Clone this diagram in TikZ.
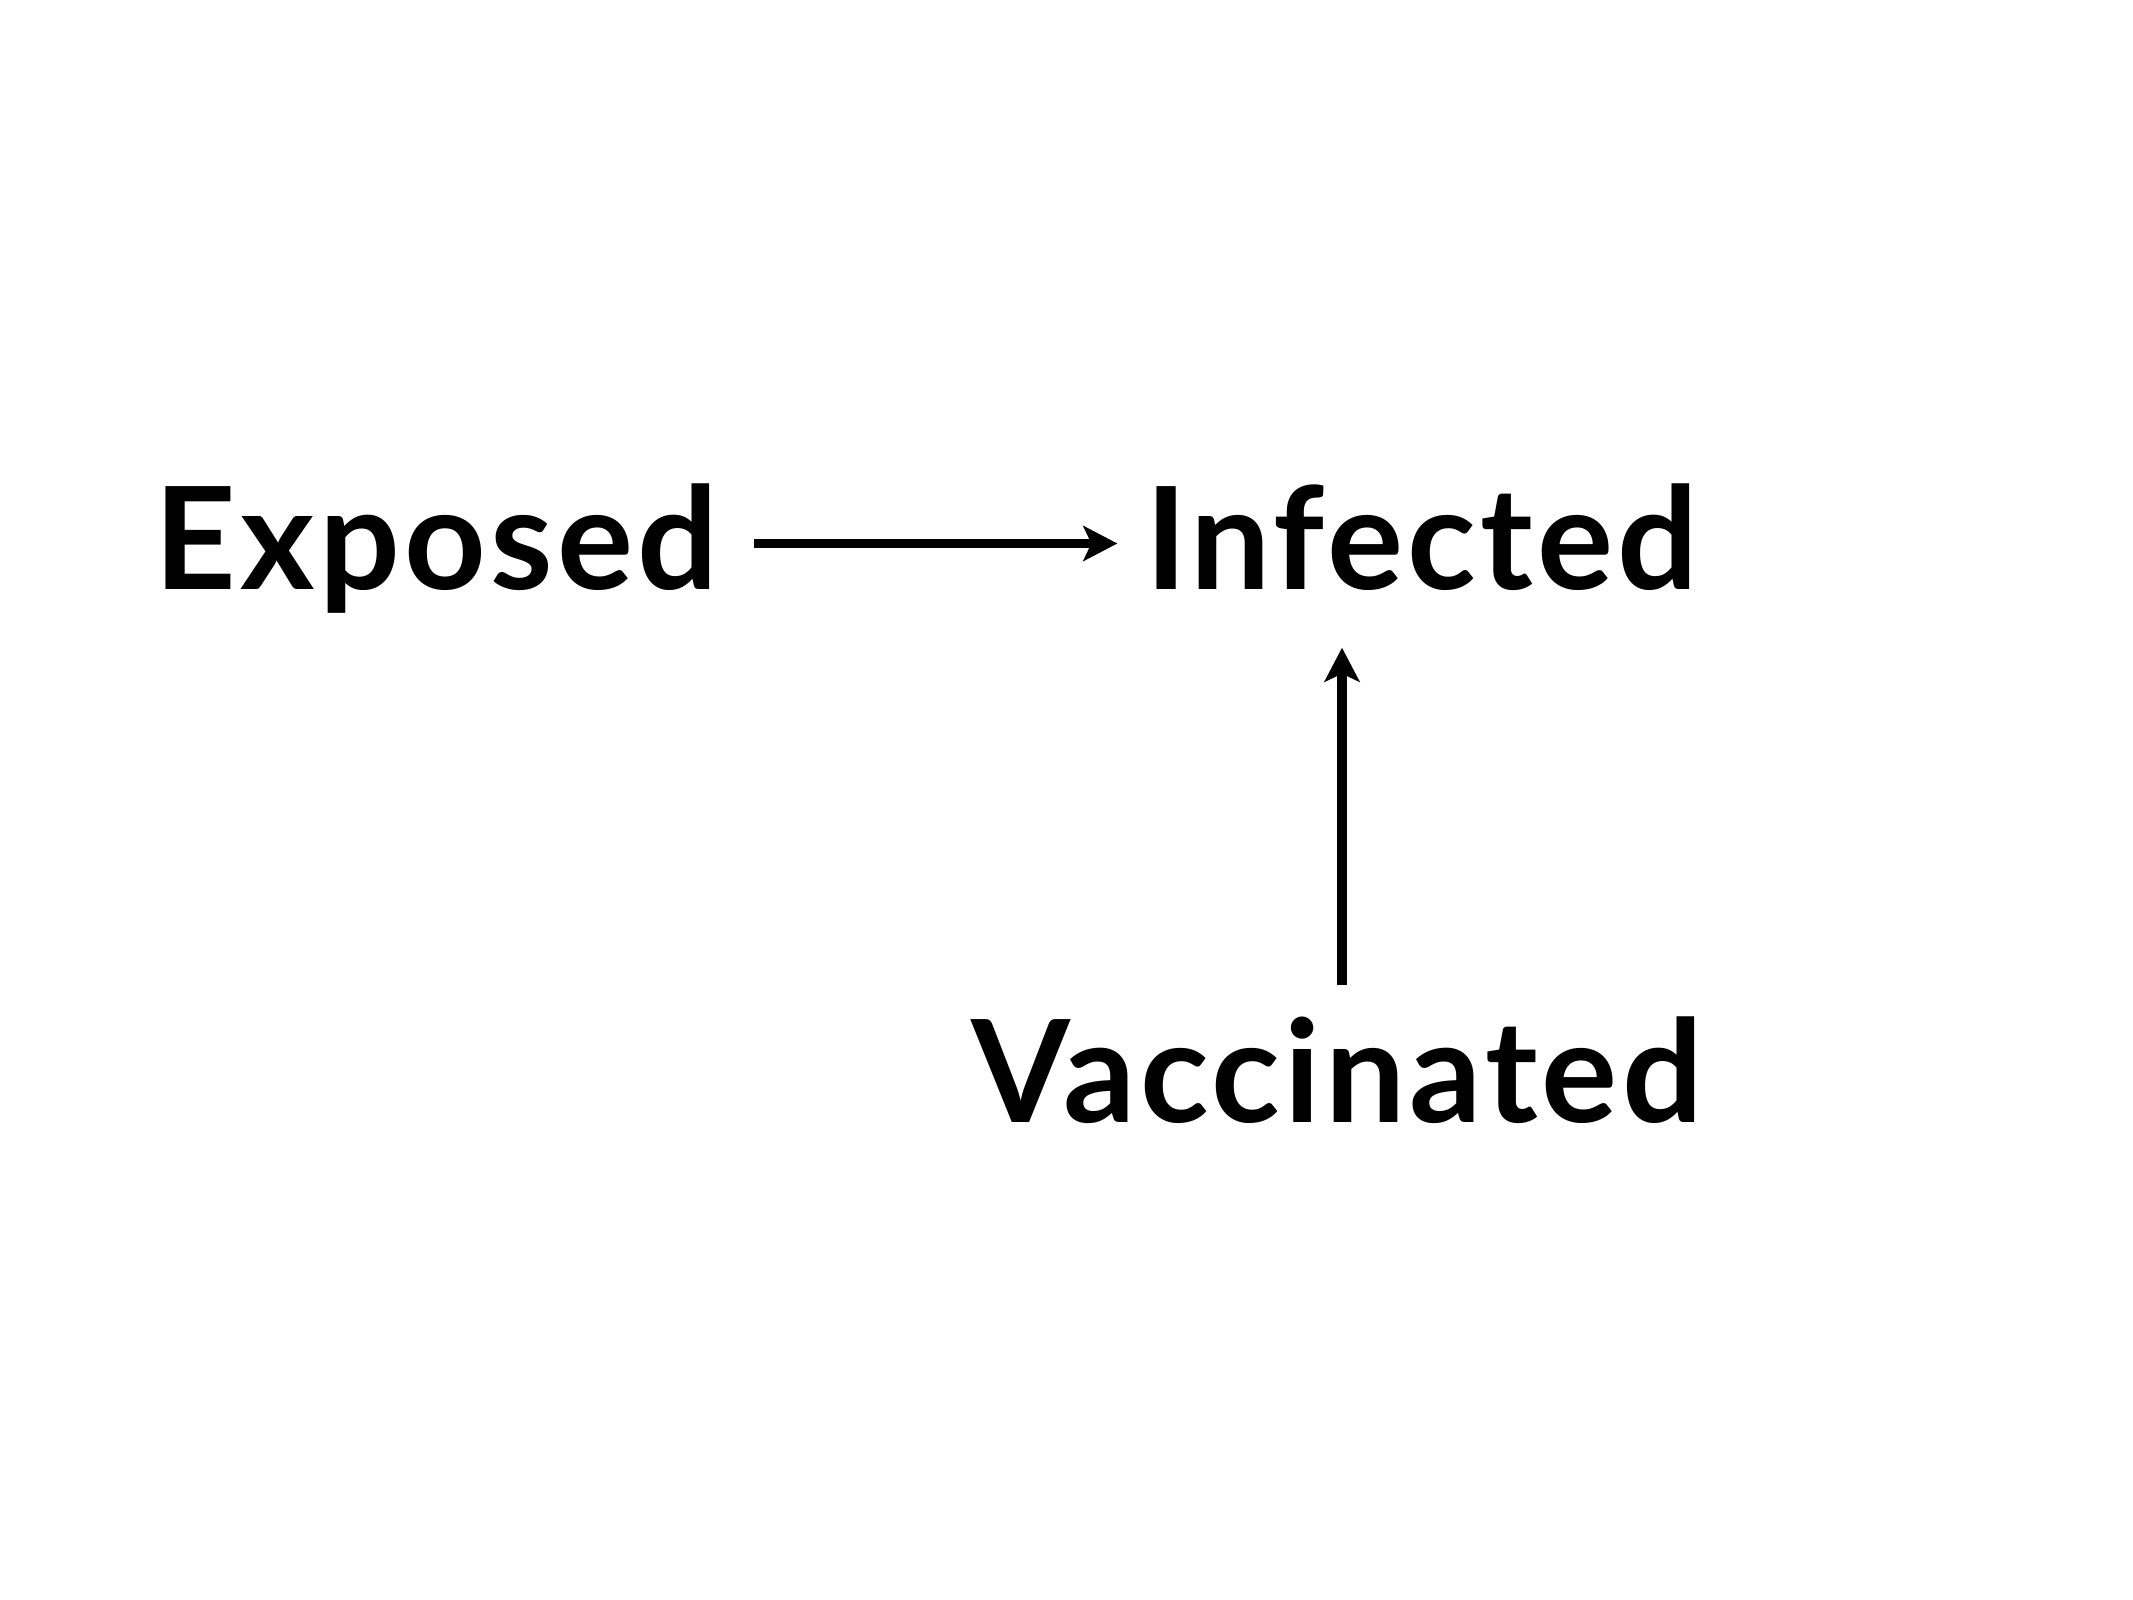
\documentclass[tikz,border=0pt]{standalone}
\usepackage{fontspec}
\newfontfamily\statefont{Lato}[UprightFont=* Bold, LetterSpace=3]
\usetikzlibrary{positioning,arrows.meta}

\tikzset{
  state/.style={anchor=base, inner xsep=0.35cm, inner ysep=0pt, text height=0.93cm, text depth=0cm,
                font=\statefont\fontsize{40.5}{40.5}\selectfont},
  flow/.style={draw=black, line width=2.6pt,
               -{Stealth[length=0.34cm, width=0.35cm, inset=0.08cm]}}
}

\begin{document}
\begin{tikzpicture}
            \useasboundingbox (0,0) rectangle (21.33,-16);
            \node[state] (exposed) at (4.365,-5.90) {Exposed};
            \node[state] (infected) at (14.215,-5.90) {Infected};
            \node[state] (vaccinated) at (13.37,-11.22) {Vaccinated};
            \path[flow,shorten >=-0.08cm] (exposed.east) -- (infected.west);
            \path[flow,shorten <=0.43cm,shorten >=0.57cm] ([xshift=0.05cm]vaccinated.north)
                 -- ([xshift=0.05cm]vaccinated.north |- infected.south);
          \end{tikzpicture}
\end{document}
